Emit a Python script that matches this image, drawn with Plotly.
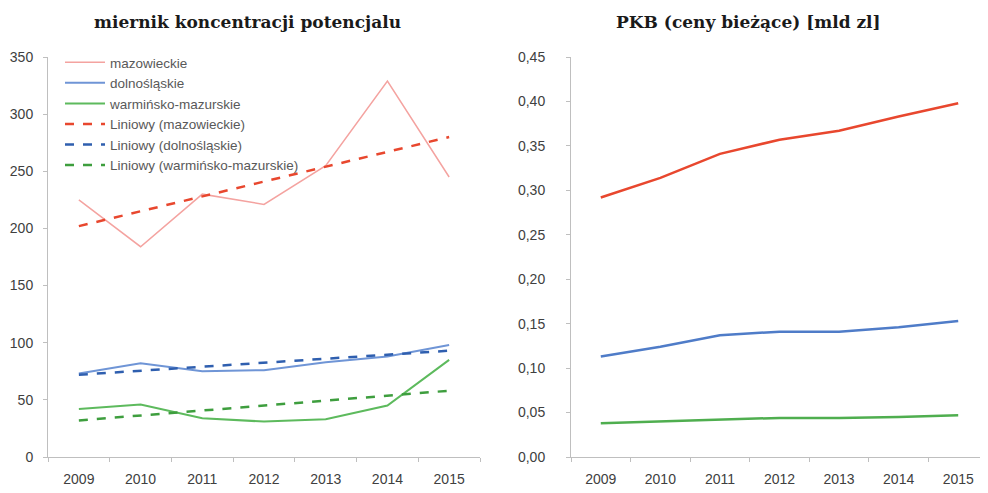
import plotly.graph_objects as go

years = ["2009", "2010", "2011", "2012", "2013", "2014", "2015"]

# left chart: miernik koncentracji potencjalu
maz = [225, 184, 230, 221, 255, 329, 245]
dol = [73, 82, 75, 76, 83, 88, 98]
war = [42, 46, 34, 31, 33, 45, 85]
trend_years = ["2009", "2015"]
trend_maz = [202, 280]
trend_dol = [72, 93]
trend_war = [32, 58]

# right chart: PKB (ceny bieżące) [mld zl]
pkb_red = [0.292, 0.314, 0.341, 0.357, 0.367, 0.383, 0.398]
pkb_blue = [0.113, 0.124, 0.137, 0.141, 0.141, 0.146, 0.153]
pkb_green = [0.038, 0.040, 0.042, 0.044, 0.044, 0.045, 0.047]

titles = ["miernik koncentracji potencjalu", "PKB (ceny bieżące) [mld zl]"]
y_left_ticks = [0, 50, 100, 150, 200, 250, 300, 350]
y_right_ticks = [0, 0.05, 0.10, 0.15, 0.20, 0.25, 0.30, 0.35, 0.40, 0.45]

C_MAZ = "#F4A3A0"
C_RED = "#E8472E"
C_BLUE = "#4F7CC8"
C_GREEN = "#4FAE4F"
C_TBLUE = "#2F5FAF"
C_TGREEN = "#3E9E3E"

fig = go.Figure()
fig.add_trace(go.Scatter(x=years, y=maz, mode="lines", name="mazowieckie",
                         line=dict(color=C_MAZ, width=1.5), xaxis="x", yaxis="y"))
fig.add_trace(go.Scatter(x=years, y=dol, mode="lines", name="dolnośląskie",
                         line=dict(color="#6F95D6", width=2), xaxis="x", yaxis="y"))
fig.add_trace(go.Scatter(x=years, y=war, mode="lines", name="warmińsko-mazurskie",
                         line=dict(color="#5DBA5D", width=2), xaxis="x", yaxis="y"))
fig.add_trace(go.Scatter(x=trend_years, y=trend_maz, mode="lines", name="Liniowy (mazowieckie)",
                         line=dict(color=C_RED, width=2.5, dash="dash"), xaxis="x", yaxis="y"))
fig.add_trace(go.Scatter(x=trend_years, y=trend_dol, mode="lines", name="Liniowy (dolnośląskie)",
                         line=dict(color=C_TBLUE, width=2.5, dash="dash"), xaxis="x", yaxis="y"))
fig.add_trace(go.Scatter(x=trend_years, y=trend_war, mode="lines", name="Liniowy (warmińsko-mazurskie)",
                         line=dict(color=C_TGREEN, width=2.5, dash="dash"), xaxis="x", yaxis="y"))

fig.add_trace(go.Scatter(x=years, y=pkb_red, mode="lines", showlegend=False,
                         line=dict(color=C_RED, width=2.5), xaxis="x2", yaxis="y2"))
fig.add_trace(go.Scatter(x=years, y=pkb_blue, mode="lines", showlegend=False,
                         line=dict(color=C_BLUE, width=2.5), xaxis="x2", yaxis="y2"))
fig.add_trace(go.Scatter(x=years, y=pkb_green, mode="lines", showlegend=False,
                         line=dict(color=C_GREEN, width=2.5), xaxis="x2", yaxis="y2"))

# page body has an 8px margin; figure sized to fit the window
OFF = 8
W, H = 980, 485


def px(p):
    return (p - OFF) / W


def py(p):
    return 1 - (p - OFF) / H


ydom = [py(457), py(57)]
tickfont = dict(family="Liberation Sans", size=14, color="#404040")
xcommon = dict(type="category", tickson="boundaries", ticks="outside", ticklen=4,
               tickcolor="#BFBFBF", showline=True, linecolor="#BFBFBF", linewidth=1,
               showgrid=False, zeroline=False, tickfont=tickfont, fixedrange=True,
               range=[-0.5, 6.5], automargin=False, ticklabelstandoff=9)
ycommon = dict(ticks="outside", ticklen=4, tickcolor="#BFBFBF", showline=True,
               linecolor="#BFBFBF", linewidth=1, showgrid=False, zeroline=False,
               tickfont=tickfont, fixedrange=True, automargin=False)

fig.update_layout(
    width=W, height=H,
    margin=dict(l=0, r=0, t=0, b=0),
    paper_bgcolor="white", plot_bgcolor="white",
    xaxis=dict(domain=[px(48), px(480)], anchor="y", **xcommon),
    yaxis=dict(domain=ydom, anchor="x", range=[0, 350], tickvals=y_left_ticks,
               ticklabelstandoff=7, **ycommon),
    xaxis2=dict(domain=[px(571), 1.0], anchor="y2", **xcommon),
    yaxis2=dict(domain=ydom, anchor="x2", range=[0, 0.45], tickvals=y_right_ticks,
                ticktext=[f"{v:.2f}".replace(".", ",") for v in y_right_ticks],
                ticklabelstandoff=18, **ycommon),
    legend=dict(x=px(60), y=py(47), xanchor="left", yanchor="top",
                bgcolor="rgba(0,0,0,0)", font=dict(family="Liberation Sans", size=13.5, color="#595959"),
                tracegroupgap=0, itemwidth=40),
    showlegend=True,
)

fig.add_annotation(x=px(247), y=py(22), xref="paper", yref="paper", showarrow=False,
                   xanchor="center", yanchor="middle",
                   text="<b>" + titles[0] + "</b>",
                   font=dict(family="DejaVu Serif", size=17, color="#1A1A1A"))
fig.add_annotation(x=px(748), y=py(22), xref="paper", yref="paper", showarrow=False,
                   xanchor="center", yanchor="middle",
                   text="<b>" + titles[1] + "</b>",
                   font=dict(family="DejaVu Serif", size=17, color="#1A1A1A"))

fig.write_html("out.html")
